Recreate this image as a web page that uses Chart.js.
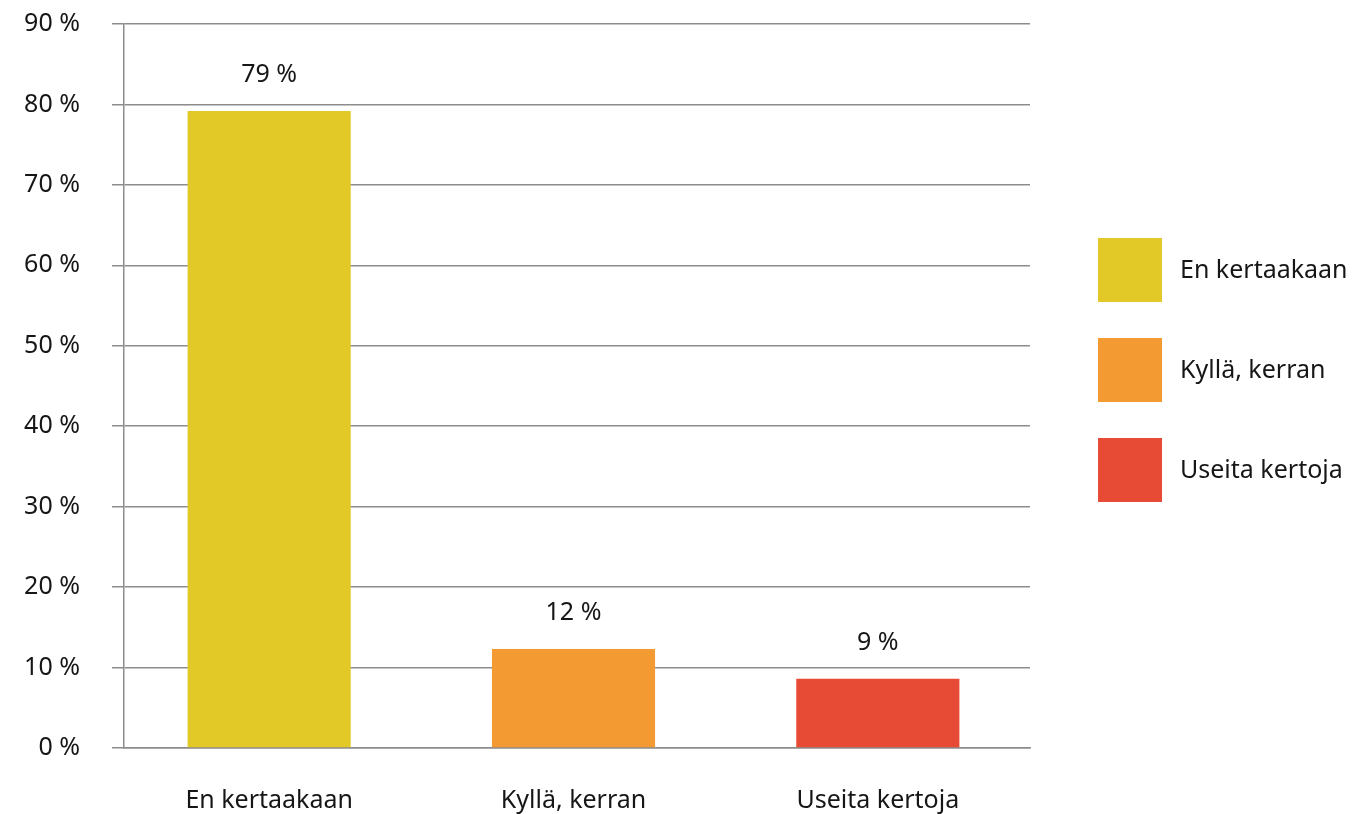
<!DOCTYPE html>
<html>
<head>
<meta charset="utf-8">
<script src="https://cdn.jsdelivr.net/npm/chart.js@4"></script>
<style>
  html, body { margin: 0; padding: 0; background: #fff; }
  #wrap { width: 1352px; height: 814px; position: relative; }
</style>
</head>
<body>
<div id="wrap"><canvas id="chart"></canvas></div>
<script>
// answers and their shares (%)
const categories = ['En kertaakaan', 'Kyllä, kerran', 'Useita kertoja'];
const shares     = [79.2, 12.3, 8.6];
const barColors  = ['#e3c928', '#f49a32', '#e84b35'];
const yTicks     = [0, 10, 20, 30, 40, 50, 60, 70, 80, 90];

const FONT = '"Noto Sans", "Open Sans", sans-serif';
const TEXT = '#161616';
const GRID = '#8c8c8c';

Chart.defaults.font  = { family: FONT, size: 25 };
Chart.defaults.color = TEXT;

// the category band starts a little left of the y axis line in the original
const xShift = {
  id: 'xShift',
  afterLayout(chart) {
    const x = chart.scales.x;
    x._startPixel -= 7;
    x._length += 7;
  },
};

// value labels above each bar
const valueLabels = {
  id: 'valueLabels',
  afterDatasetsDraw(chart) {
    const ctx = chart.ctx;
    const meta = chart.getDatasetMeta(0);
    ctx.save();
    ctx.font = '25px ' + FONT;
    ctx.fillStyle = TEXT;
    ctx.textAlign = 'center';
    ctx.textBaseline = 'middle';
    meta.data.forEach((bar, i) => {
      ctx.fillText(Math.round(shares[i]) + ' %', bar.x, bar.y - 36);
    });
    ctx.restore();
  },
};

// square legend on the right side
const sideLegend = {
  id: 'sideLegend',
  afterDraw(chart) {
    const ctx = chart.ctx;
    const area = chart.chartArea;
    const x = area.right + 68;
    let y = area.top + 214;
    ctx.save();
    ctx.font = '25px ' + FONT;
    ctx.textBaseline = 'middle';
    categories.forEach((label, i) => {
      ctx.fillStyle = barColors[i];
      ctx.fillRect(x, y, 64, 64);
      ctx.fillStyle = TEXT;
      ctx.fillText(label, x + 82, y + 33);
      y += 100;
    });
    ctx.restore();
  },
};

new Chart(document.getElementById('chart'), {
  type: 'bar',
  data: {
    labels: categories,
    datasets: [{
      data: shares,
      backgroundColor: barColors,
      barPercentage: 0.536,
      categoryPercentage: 1,
    }],
  },
  options: {
    responsive: true,
    maintainAspectRatio: false,
    animation: false,
    layout: { padding: { top: 24, right: 322, left: 0, bottom: 0 } },
    plugins: { legend: { display: false }, tooltip: { enabled: false } },
    scales: {
      x: {
        grid: { display: false },
        border: { display: true, color: GRID, width: 1.5 },
        ticks: { padding: 30 },
        afterFit: s => { s.height = 66; },
      },
      y: {
        min: 0,
        max: 90,
        afterBuildTicks: s => { s.ticks = yTicks.map(v => ({ value: v })); },
        grid: { color: GRID, lineWidth: 1.5, tickLength: 12 },
        border: { display: true, color: GRID, width: 1.5 },
        ticks: { padding: 32, callback: v => v + ' %' },
        afterFit: s => {
          s.width = 124;
          s.paddingTop = 0;
          s.paddingBottom = 0;
        },
      },
    },
  },
  plugins: [xShift, valueLabels, sideLegend],
});
</script>
</body>
</html>
